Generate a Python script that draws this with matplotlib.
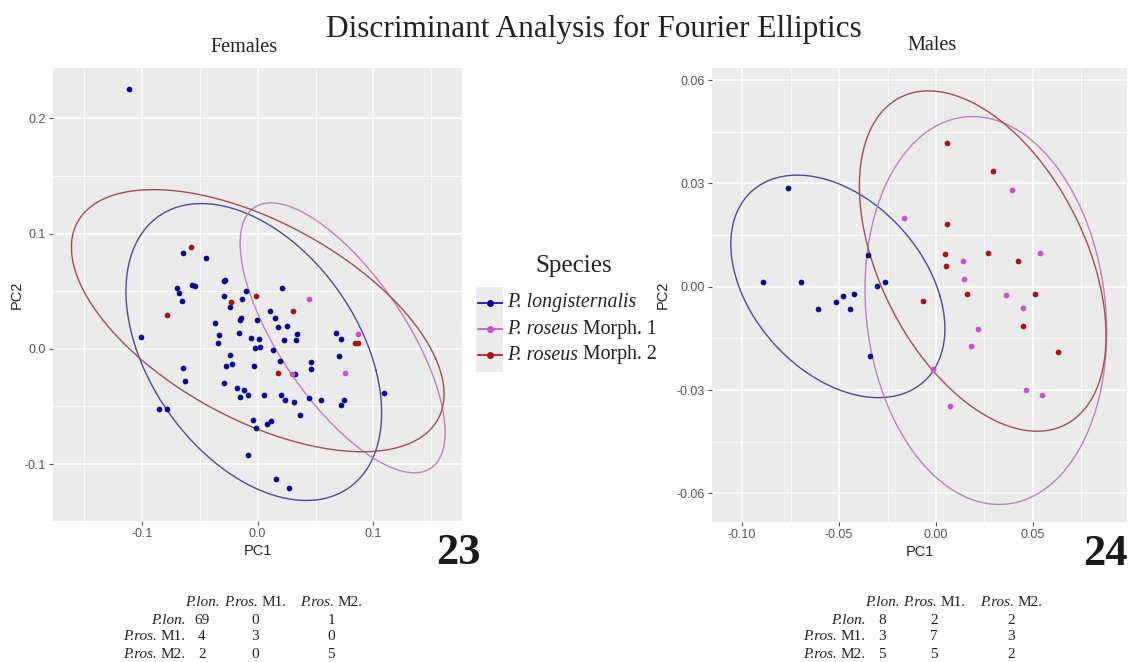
import numpy as np
import matplotlib
matplotlib.use("Agg")
import matplotlib.pyplot as plt
from matplotlib.patches import Rectangle
from matplotlib.lines import Line2D

# ---------------- data ----------------
species = ["P. longisternalis", "P. roseus Morph. 1", "P. roseus Morph. 2"]
# label pieces: (text, style)
species_labels = [[("P. longisternalis", "italic")],
                  [("P. roseus", "italic"), ("Morph. 1", "normal")],
                  [("P. roseus", "italic"), ("Morph. 2", "normal")]]
point_colors = ["#08089a", "#cc4fcc", "#b01212"]
ellipse_colors = ["#4a4a9e", "#c27ec2", "#a24f4a"]

# Females
f_lon_x = [-0.1114, -0.0646, -0.0442, -0.1004, -0.0698, -0.0681, -0.0655, -0.0566, -0.0545, -0.0294,
           -0.0285, -0.0294, -0.0237, -0.0136, -0.0101, -0.0156, -0.0141, -0.0369, -0.0335, -0.0343,
           -0.0159, -0.0055, 0.0012, -0.0006, -0.0020, 0.0017, -0.0029, -0.0237, -0.0277, -0.0222,
           -0.0294, -0.0176, -0.0118, -0.0153, -0.0087, 0.0058, -0.0646, -0.0623, -0.0851, -0.0785,
           -0.0038, -0.0014, 0.0084, 0.0113, -0.0087, 0.0162, 0.0274, 0.0211, 0.0104, 0.0147,
           0.0179, 0.0257, 0.0341, 0.0332, 0.0228, 0.0130, 0.0196, 0.0323, 0.0202, 0.0237,
           0.0315, 0.0364, 0.0444, 0.0548, 0.0459, 0.0462, 0.0681, 0.0724, 0.0701, 0.0747,
           0.0724, 0.1094]
f_lon_y = [0.2254, 0.0832, 0.0789, 0.0101, 0.0526, 0.0486, 0.0413, 0.0555, 0.0549, 0.0592,
           0.0598, 0.0460, 0.0364, 0.0428, 0.0503, 0.0249, 0.0269, 0.0228, 0.0116, 0.0052,
           0.0133, 0.0092, 0.0087, 0.0251, 0.0003, 0.0017, -0.0150, -0.0052, -0.0150, -0.0130,
           -0.0301, -0.0344, -0.0358, -0.0416, -0.0399, -0.0399, -0.0165, -0.0280, -0.0520, -0.0526,
           -0.0616, -0.0688, -0.0656, -0.0624, -0.0922, -0.1130, -0.1211, 0.0526, 0.0324, 0.0266,
           0.0188, 0.0197, 0.0130, 0.0075, 0.0075, -0.0014, -0.0110, -0.0223, -0.0399, -0.0445,
           -0.0462, -0.0575, -0.0431, -0.0445, -0.0173, -0.0116, 0.0139, 0.0081, -0.0061, -0.0445,
           -0.0486, -0.0382]
f_m1_x = [0.0444, 0.0863, 0.0756, 0.0297]
f_m1_y = [0.0436, 0.0124, -0.0214, -0.0223]
f_m2_x = [-0.0577, -0.0779, -0.0231, -0.0014, 0.0306, 0.0179, 0.0840, 0.0866]
f_m2_y = [0.0882, 0.0292, 0.0408, 0.0460, 0.0327, -0.0214, 0.0049, 0.0046]

# Males
m_lon_x = [-0.0761, -0.0890, -0.0694, -0.0607, -0.0517, -0.0478, -0.0443, -0.0421, -0.0352, -0.0306, -0.0263, -0.0342]
m_lon_y = [0.0288, 0.0015, 0.0015, -0.0066, -0.0044, -0.0028, -0.0066, -0.0022, 0.0091, 0.0002, 0.0015, -0.0200]
m_m1_x = [-0.0167, 0.0390, 0.0141, 0.0146, 0.0361, 0.0447, 0.0534, 0.0218, 0.0179, -0.0017, 0.0462, 0.0548, 0.0074]
m_m1_y = [0.0199, 0.0281, 0.0075, 0.0023, -0.0025, -0.0063, 0.0099, -0.0122, -0.0173, -0.0239, -0.0300, -0.0314, -0.0346]
m_m2_x = [0.0055, 0.0292, 0.0055, 0.0046, 0.0050, 0.0270, 0.0423, 0.0158, -0.0065, 0.0510, 0.0447, 0.0629]
m_m2_y = [0.0417, 0.0337, 0.0183, 0.0094, 0.0061, 0.0099, 0.0075, -0.0020, -0.0041, -0.0020, -0.0113, -0.0190]

# ellipse parameters: centre x, centre y, half-extent x, half-extent y, correlation
f_ell_cx = [-0.0033, 0.0734, 0.0001]
f_ell_cy = [-0.0028, 0.0095, 0.0244]
f_ell_sx = [0.1104, 0.0885, 0.1609]
f_ell_sy = [0.1288, 0.1171, 0.1137]
f_ell_r = [-0.41, -0.70, -0.56]

m_ell_cx = [-0.0506, 0.0257, 0.0241]
m_ell_cy = [0.0001, -0.0069, 0.00745]
m_ell_sx = [0.0552, 0.0623, 0.0636]
m_ell_sy = [0.0323, 0.0563, 0.0494]
m_ell_r = [-0.38, -0.11, -0.44]

# ticks
f_xticks = [-0.1, 0.0, 0.1]
f_xticklabels = ["-0.1", "0.0", "0.1"]
f_yticks = [-0.1, 0.0, 0.1, 0.2]
f_yticklabels = ["-0.1", "0.0", "0.1", "0.2"]
m_xticks = [-0.10, -0.05, 0.00, 0.05]
m_xticklabels = ["-0.10", "-0.05", "0.00", "0.05"]
m_yticks = [-0.06, -0.03, 0.00, 0.03, 0.06]
m_yticklabels = ["-0.06", "-0.03", "0.00", "0.03", "0.06"]

# confusion tables
table_cols = [[("P.lon.", "italic")], [("P.ros.", "italic"), ("M1.", "normal")], [("P.ros.", "italic"), ("M2.", "normal")]]
table_rows = [[("P.lon.", "italic")], [("P.ros.", "italic"), ("M1.", "normal")], [("P.ros.", "italic"), ("M2.", "normal")]]
female_table = [[69, 0, 1], [4, 3, 0], [2, 0, 5]]
male_table = [[8, 2, 2], [3, 7, 3], [5, 5, 2]]

# ---------------- figure ----------------
W, H = 1128, 662
fig = plt.figure(figsize=(W / 100, H / 100), dpi=100)
fig.patch.set_facecolor("white")
serif = "Liberation Serif"
TXT = "#222222"


def px_axes(x0, y0, x1, y1):
    return fig.add_axes([x0 / W, 1 - y1 / H, (x1 - x0) / W, (y1 - y0) / H])


def style_panel(ax, xlim, ylim, xt, xtl, yt, ytl, xminor, yminor, ylabelpad):
    ax.set_facecolor("#ebebeb")
    for s in ax.spines.values():
        s.set_visible(False)
    ax.set_xlim(*xlim)
    ax.set_ylim(*ylim)
    ax.set_xticks(xt)
    ax.set_xticklabels(xtl)
    ax.set_yticks(yt)
    ax.set_yticklabels(ytl)
    ax.set_xticks(xminor, minor=True)
    ax.set_yticks(yminor, minor=True)
    ax.grid(True, which="major", color="white", linewidth=1.1)
    ax.grid(True, which="minor", color="white", linewidth=0.55)
    ax.set_axisbelow(True)
    ax.tick_params(which="major", length=3, width=0.8, color="#555555",
                   labelcolor="#555555", labelsize=9, pad=2)
    ax.tick_params(which="minor", length=0)
    for lab in ax.get_xticklabels() + ax.get_yticklabels():
        lab.set_fontfamily("Liberation Sans")
    ax.set_xlabel("PC1", fontsize=10.5, fontfamily="Liberation Sans", color=TXT, labelpad=3)
    ax.set_ylabel("PC2", fontsize=10.5, fontfamily="Liberation Sans", color=TXT, labelpad=ylabelpad)


def draw_ellipse(ax, cx, cy, sx, sy, r, color):
    t = np.linspace(0.3, 0.3 + 2 * np.pi, 400)
    x = cx + sx * np.cos(t)
    y = cy + sy * (r * np.cos(t) + np.sqrt(1 - r * r) * np.sin(t))
    ax.plot(x, y, color=color, linewidth=1.0, solid_joinstyle="round")


# Females panel
axF = px_axes(53, 68, 462, 521)
style_panel(axF, (-0.1767, 0.1765), (-0.1494, 0.2436),
            f_xticks, f_xticklabels, f_yticks, f_yticklabels,
            [-0.15, -0.05, 0.05, 0.15], [-0.05, 0.05, 0.15], 1)
for xs, ys, c in zip([f_lon_x, f_m1_x, f_m2_x], [f_lon_y, f_m1_y, f_m2_y], point_colors):
    axF.scatter(xs, ys, s=17, color=c, linewidths=0, zorder=3)
for i in range(3):
    draw_ellipse(axF, f_ell_cx[i], f_ell_cy[i], f_ell_sx[i], f_ell_sy[i], f_ell_r[i], ellipse_colors[i])

# Males panel
axM = px_axes(712, 68, 1127, 522)
style_panel(axM, (-0.1155, 0.0985), (-0.0683, 0.0635),
            m_xticks, m_xticklabels, m_yticks, m_yticklabels,
            [-0.075, -0.025, 0.025, 0.075], [-0.045, -0.015, 0.015, 0.045], 5)
for xs, ys, c in zip([m_lon_x, m_m1_x, m_m2_x], [m_lon_y, m_m1_y, m_m2_y], point_colors):
    axM.scatter(xs, ys, s=17, color=c, linewidths=0, zorder=3)
for i in range(3):
    draw_ellipse(axM, m_ell_cx[i], m_ell_cy[i], m_ell_sx[i], m_ell_sy[i], m_ell_r[i], ellipse_colors[i])

# overlay axes in pixel coordinates for free text
axL = fig.add_axes([0, 0, 1, 1], facecolor="none")
axL.set_xlim(0, W)
axL.set_ylim(H, 0)
axL.axis("off")
renderer = fig.canvas.get_renderer()


def rich(x, y, parts, ha, size):
    widths = []
    for s, st in parts:
        t = axL.text(0, 0, s, fontsize=size, fontfamily=serif, fontstyle=st)
        widths.append(t.get_window_extent(renderer).width)
        t.remove()
    gap = size * 100 / 72 * 0.25
    total = sum(widths) + gap * (len(parts) - 1)
    if ha == "left":
        start = x
    elif ha == "center":
        start = x - total / 2
    else:
        start = x - total
    for (s, st), w in zip(parts, widths):
        axL.text(start, y, s, ha="left", va="center", fontsize=size, fontfamily=serif,
                 fontstyle=st, color=TXT)
        start += w + gap


# titles
axL.text(594, 29, "Discriminant Analysis for Fourier Elliptics", ha="center", va="center",
         fontsize=22.5, fontfamily=serif, color=TXT)
axL.text(244, 48, "Females", ha="center", va="center", fontsize=14.5, fontfamily=serif, color=TXT)
axL.text(932, 46, "Males", ha="center", va="center", fontsize=14.5, fontfamily=serif, color=TXT)

# panel numbers
axL.text(458, 553, "23", ha="center", va="center", fontsize=32, fontweight="bold", fontfamily=serif, color="#1a1a1a")
axL.text(1105, 554, "24", ha="center", va="center", fontsize=32, fontweight="bold", fontfamily=serif, color="#1a1a1a")

# legend
axL.text(574, 266, "Species", ha="center", va="center", fontsize=18, fontfamily=serif, color=TXT)
axL.add_patch(Rectangle((476, 287), 27, 85, facecolor="#ebebeb", edgecolor="none"))
legend_y = [302.7, 329.3, 355]
for i in range(3):
    axL.add_line(Line2D([478, 502], [legend_y[i], legend_y[i]], color=point_colors[i], linewidth=1.2))
    axL.plot([490], [legend_y[i]], "o", color=point_colors[i], markersize=4)
    rich(507, legend_y[i], species_labels[i], "left", 14.3)


def draw_table(col_x, row_label_x, ys, data):
    for j, parts in enumerate(table_cols):
        rich(col_x[j], ys[0], parts, "center", 11)
    for i, parts in enumerate(table_rows):
        rich(row_label_x, ys[i + 1], parts, "right", 11)
        for j in range(3):
            axL.text(col_x[j], ys[i + 1], str(data[i][j]), ha="center", va="center", fontsize=11,
                     fontfamily=serif, color=TXT)


draw_table([202, 255, 331], 186, [603, 620, 637, 655], female_table)
draw_table([882, 934, 1011], 866, [603, 620, 637, 655], male_table)

fig.savefig("out.png", dpi=100)
